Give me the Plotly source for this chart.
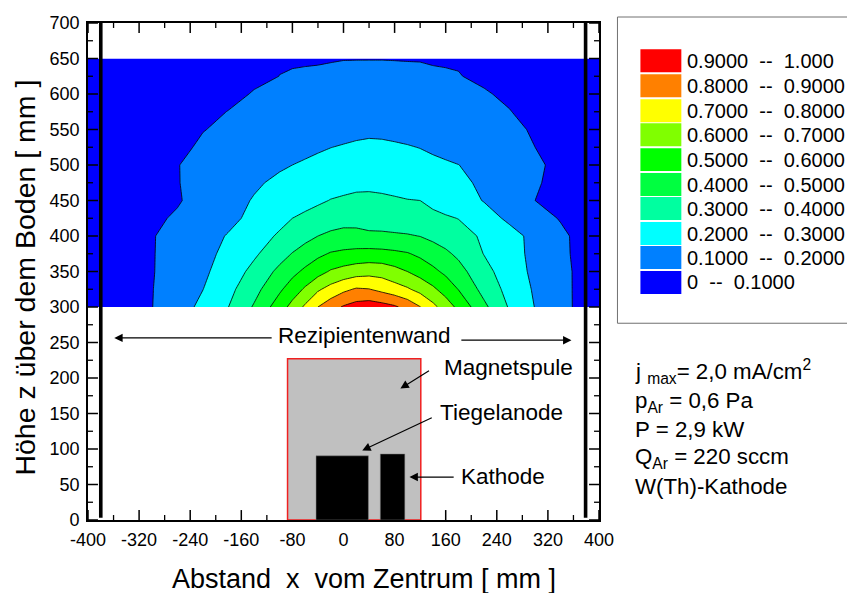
import plotly.graph_objects as go

W, H = 847, 593
L, R, T, B = 87.5, 599.5, 22.7, 520.3
FONT = "Liberation Sans"

x_mm = [-400,-300,-260,-220,-180,-140,-100,-80,-60,-40,-20,0,20,40,60,80,100,120,140,160,180,220,260,300,340,360,400]
z_mm = [300,325,350,375,400,425,450,475,500,525,550,575,600,625,650]

j300 = [.03,.098,.157,.223,.30,.41,.552,.633,.717,.80,.859,.91,.94,.955,.94,.915,.866,.803,.727,.652,.576,.422,.29,.197,.13,.097,.04]
j325 = [.03,.097,.147,.199,.274,.367,.484,.548,.614,.686,.735,.778,.81,.803,.773,.742,.712,.669,.618,.559,.497,.367,.267,.188,.126,.097,.04]
j350 = [.03,.095,.139,.183,.246,.327,.424,.473,.52,.564,.61,.635,.655,.665,.66,.632,.60,.561,.522,.48,.434,.332,.247,.179,.124,.097,.04]
j375 = [.02,.095,.134,.174,.223,.285,.362,.404,.441,.479,.508,.52,.53,.535,.53,.52,.507,.481,.449,.417,.381,.297,.235,.176,.12,.093,.04]
j400 = [.02,.095,.129,.167,.206,.258,.312,.341,.371,.40,.42,.43,.425,.415,.415,.412,.408,.398,.376,.355,.333,.287,.231,.175,.118,.092,.04]
j425 = [.02,.085,.11,.144,.179,.221,.274,.30,.318,.335,.352,.365,.37,.365,.36,.35,.34,.33,.32,.31,.298,.237,.183,.137,.094,.08,.03]
j450 = [.02,.07,.093,.13,.169,.206,.238,.254,.271,.287,.303,.31,.315,.315,.312,.308,.303,.30,.28,.259,.239,.196,.148,.10,.08,.07,.03]
j475 = [.02,.07,.097,.126,.157,.188,.217,.229,.24,.252,.265,.275,.283,.285,.282,.275,.262,.25,.24,.228,.217,.186,.147,.107,.08,.07,.03]
j500 = [.02,.07,.098,.12,.143,.166,.189,.20,.21,.22,.23,.238,.245,.248,.245,.24,.235,.227,.218,.21,.201,.171,.141,.11,.085,.07,.03]
j525 = [.02,.055,.085,.11,.126,.142,.161,.171,.18,.19,.199,.206,.212,.215,.214,.21,.205,.198,.187,.176,.165,.143,.122,.10,.07,.06,.03]
j550 = [.02,.05,.07,.098,.112,.125,.139,.145,.152,.158,.165,.172,.18,.185,.183,.178,.172,.166,.158,.15,.143,.125,.11,.095,.06,.05,.02]
j575 = [.02,.04,.06,.08,.102,.112,.122,.127,.132,.137,.143,.15,.158,.163,.16,.155,.15,.145,.138,.132,.125,.113,.102,.08,.05,.04,.02]
j600 = [.02,.035,.05,.065,.08,.105,.11,.113,.116,.12,.125,.13,.137,.142,.14,.135,.13,.125,.118,.114,.11,.105,.09,.06,.04,.03,.02]
j625 = [.015,.03,.04,.05,.065,.085,.1005,.103,.106,.11,.113,.116,.119,.12,.12,.118,.115,.112,.108,.105,.102,.09,.07,.05,.03,.025,.015]
j650 = [.01,.02,.03,.04,.05,.07,.095,.096,.095,.094,.096,.098,.098,.098,.098,.0975,.097,.097,.0947,.0946,.095,.07,.05,.03,.02,.015,.01]

band_labels = ["0.9000  --  1.000","0.8000  --  0.9000","0.7000  --  0.8000","0.6000  --  0.7000",
               "0.5000  --  0.6000","0.4000  --  0.5000","0.3000  --  0.4000","0.2000  --  0.3000",
               "0.1000  --  0.2000","0  --  0.1000"]
band_colors = ["#ff0000","#ff8000","#ffff00","#80ff00","#00ff00","#00ff40","#00ffa0","#00ffff","#0080ff","#0000ff"]

x_ticks = [-400,-320,-240,-160,-80,0,80,160,240,320,400]
x_tick_text = ["-400","-320","-240","-160","-80","0","80","160","240","320","400"]
x_minor = [-360,-280,-200,-120,-40,40,120,200,280,360]
y_ticks = [0,50,100,150,200,250,300,350,400,450,500,550,600,650,700]
y_minor = [25,75,125,175,225,275,325,375,425,475,525,575,625,675]

wall_left = -380
wall_right = 379
magnet_box = [-87.6, 121, 0, 227]
anode_box = [-43, 39, 0, 90.4]
cathode_box = [57.6, 96, 0, 93]

info_lines = ["j <sub>max</sub>= 2,0 mA/cm<sup>2</sup>","p<sub>Ar</sub> = 0,6 Pa","P = 2,9 kW","Q<sub>Ar</sub> = 220 sccm","W(Th)-Kathode"]
info_y = [372, 402, 430, 458, 487]
swatch_top = [49, 74, 99, 123, 148, 173, 197, 222, 246, 271]


def px(x):
    return (x - L) / (R - L)


def py(y):
    return (B - y) / (B - T)


n = len(band_colors)
scale = []
for i, c in enumerate(reversed(band_colors)):
    scale += [[i / n, c], [(i + 1) / n, c]]

fig = go.Figure()
fig.add_trace(go.Contour(
    x=x_mm, y=z_mm,
    z=[j300,j325,j350,j375,j400,j425,j450,j475,j500,j525,j550,j575,j600,j625,j650],
    zmin=0, zmax=1, colorscale=scale, showscale=False,
    autocontour=False,
    contours=dict(start=0.1, end=0.9, size=0.1, coloring="fill", showlines=True),
    line=dict(color="black", width=0.8, smoothing=0),
))
for wx in (wall_left, wall_right):
    fig.add_trace(go.Scatter(x=[wx, wx], y=[3, 700], mode="lines",
                             line=dict(color="black", width=3.6), showlegend=False, hoverinfo="skip"))


def tick_marks(xv, yv, xlen, ylen, width):
    """Inside tick marks on all four frame sides, for tick values xv and yv."""
    xs, ys = [], []
    for v in xv:
        xs += [v, v, None, v, v, None]
        ys += [0, ylen, None, 700 - ylen, 700, None]
    for v in yv:
        xs += [-400, -400 + xlen, None, 400 - xlen, 400, None]
        ys += [v, v, None, v, v, None]
    fig.add_trace(go.Scatter(x=xs, y=ys, mode="lines", line=dict(color="black", width=width),
                             showlegend=False, hoverinfo="skip"))


tick_marks(x_ticks, y_ticks, 15.6, 14, 1.5)
tick_marks(x_minor, y_minor, 7.8, 7, 1.3)

shapes = [
    dict(type="rect", xref="x", yref="y", x0=magnet_box[0], x1=magnet_box[1], y0=magnet_box[2], y1=magnet_box[3],
         fillcolor="#c0c0c0", line=dict(color="#f02020", width=1.5)),
    dict(type="rect", xref="x", yref="y", x0=anode_box[0], x1=anode_box[1], y0=anode_box[2], y1=anode_box[3],
         fillcolor="black", line=dict(color="#808080", width=0.5)),
    dict(type="rect", xref="x", yref="y", x0=cathode_box[0], x1=cathode_box[1], y0=cathode_box[2], y1=cathode_box[3],
         fillcolor="black", line=dict(color="#808080", width=0.5)),
    dict(type="rect", xref="paper", yref="paper", x0=px(618), x1=px(860), y0=py(323.3), y1=py(16.7),
         fillcolor="white", line=dict(color="#707070", width=1)),
]
ann = []


def text(s, x, y, size, xanchor="left", angle=0):
    ann.append(dict(text=s, x=px(x), y=py(y), xref="paper", yref="paper", showarrow=False, xanchor=xanchor,
                    yanchor="middle", textangle=angle, borderpad=0, borderwidth=0,
                    font=dict(family=FONT, size=size, color="black")))


def arrow(x0, y0, x1, y1):
    ann.append(dict(text="", x=px(x1), y=py(y1), xref="paper", yref="paper", ax=x0 - x1, ay=y0 - y1,
                    axref="pixel", ayref="pixel", showarrow=True, arrowhead=2, arrowsize=1.4, arrowwidth=1.2,
                    arrowcolor="black", standoff=0))


for top, c, lab in zip(swatch_top, band_colors, band_labels):
    shapes.append(dict(type="rect", xref="paper", yref="paper", x0=px(641), x1=px(682), y0=py(top + 23), y1=py(top),
                       fillcolor=c, line=dict(width=0)))
    text(lab, 687.5, top + 11.5, 20)

for s, y in zip(info_lines, info_y):
    text(s, 636, y, 22.3)

text("Rezipientenwand", 364.8, 336, 22.5, "center")
text("Magnetspule", 444.4, 368, 22.5)
text("Tiegelanode", 440, 413, 22.5)
text("Kathode", 461, 477, 22.5)
text("Abstand  x  vom Zentrum [ mm ]", 364, 579, 27, "center")
text("Höhe z über dem Boden [ mm ]", 24, 278, 28.5, "center", -90)

arrow(272.7, 338, 113.8, 338)
arrow(460.3, 340.3, 571.9, 340.3)
arrow(430.6, 370, 400.5, 388.7)
arrow(433.3, 417.3, 362.3, 450.7)
arrow(455.3, 477.3, 409.6, 477.3)

axis_common = dict(showgrid=False, zeroline=False, showline=True, linecolor="black", linewidth=1.6,
                   mirror=True, ticks="", ticklabelstandoff=3,
                   tickfont=dict(family=FONT, size=18, color="black"))

fig.update_layout(
    width=W, height=H, autosize=False,
    margin=dict(l=L, r=W - R, t=T, b=H - B, pad=0),
    paper_bgcolor="white", plot_bgcolor="white", showlegend=False,
    shapes=shapes, annotations=ann,
    xaxis=dict(range=[-400, 400], tickmode="array", tickvals=x_ticks, ticktext=x_tick_text, **axis_common),
    yaxis=dict(range=[0, 700], tickmode="array", tickvals=y_ticks, ticktext=[str(v) for v in y_ticks], **axis_common),
)

fig.write_html("out.html", post_script="document.body.style.margin='0';", config={"displayModeBar": False})
